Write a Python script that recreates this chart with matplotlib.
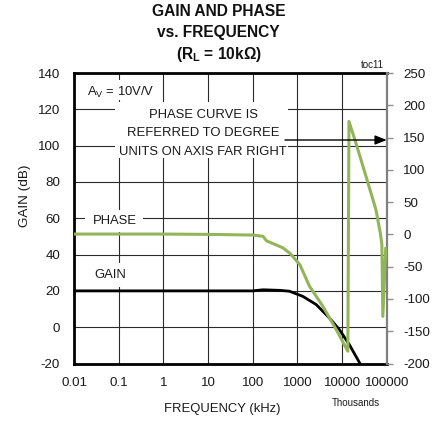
import matplotlib
matplotlib.use('Agg')
import matplotlib.pyplot as plt
from matplotlib.patches import Rectangle
from matplotlib.ticker import NullLocator, FixedLocator, FixedFormatter

# ---------------- data ----------------
gain_freq_khz = [0.01, 0.1, 1, 10, 100, 170, 400, 667, 1320, 2630, 5210, 8710, 14560, 26600]
gain_db = [20, 20, 20, 20, 20, 20.6, 20.3, 19.8, 17, 12.5, 5.1, -1.3, -9.6, -21]

phase_freq_khz = [0.01, 0.1, 1, 10, 100, 170, 204, 480, 700, 1140, 1862, 3690, 7350,
                  13500, 14300, 20560, 34360, 57500, 72000, 78000, 82000, 95000]
phase_deg = [0.5, 0.5, 0.5, 0, -1, -3, -10, -21, -30, -47, -80, -111, -147,
             -181, 175, 141, 90, 38, 2, -16, -127, -22]

x_ticks = [0.01, 0.1, 1, 10, 100, 1000, 10000, 100000]
x_tick_labels = ['0.01', '0.1', '1', '10', '100', '1000', '10000', '100000']
gain_ticks = [-20, 0, 20, 40, 60, 80, 100, 120, 140]
phase_ticks = [-200, -150, -100, -50, 0, 50, 100, 150, 200, 250]

title_lines = ['GAIN AND PHASE', 'vs. FREQUENCY', r'(R$_\mathbf{L}$ = 10kΩ)']
note_lines = ['PHASE CURVE IS', 'REFERRED TO DEGREE', 'UNITS ON AXIS FAR RIGHT']

# ---------------- style ----------------
W, H, DPI = 437, 426, 100

plt.rcParams['font.family'] = ['Liberation Sans', 'DejaVu Sans']
plt.rcParams['mathtext.fontset'] = 'custom'
plt.rcParams['mathtext.rm'] = 'Liberation Sans'
plt.rcParams['mathtext.bf'] = 'Liberation Sans:bold'
plt.rcParams['axes.unicode_minus'] = False

GREEN = '#93B55A'
GRID = '#2a2a2a'

fig = plt.figure(figsize=(W / DPI, H / DPI), dpi=DPI)


def fx(x):
    return x / W


def fy(y):
    return 1 - y / H


L, R, T, B = 74, 386.7, 73, 363.5
ax = fig.add_axes([fx(L), fy(B), (R - L) / W, (B - T) / H])
ax.set_xscale('log')
ax.set_xlim(0.01, 100000)
ax.set_ylim(-20, 140)
ax.xaxis.set_major_locator(FixedLocator(x_ticks))
ax.xaxis.set_major_formatter(FixedFormatter(x_tick_labels))
ax.xaxis.set_minor_locator(NullLocator())
ax.set_yticks(gain_ticks)
ax.set_axisbelow(True)
ax.grid(True, color=GRID, lw=0.8)
ax.tick_params(axis='both', length=0, labelsize=9.6, colors='#1a1a1a')
ax.tick_params(axis='y', pad=10)
ax.tick_params(axis='x', pad=10)
for s in ['left', 'top', 'bottom']:
    ax.spines[s].set_linewidth(2.0)
    ax.spines[s].set_color('black')
ax.spines['right'].set_visible(False)

# white boxes that interrupt the grid behind labels
boxes = [(84, 80, 160, 100), (115, 102, 288, 158), (85, 210, 143, 232), (90, 263, 131, 287)]
for x0, y0, x1, y1 in boxes:
    ax.add_patch(Rectangle((fx(x0), fy(y1)), (x1 - x0) / W, (y1 - y0) / H,
                           transform=fig.transFigure, facecolor='white',
                           edgecolor='none', zorder=1))

ax.plot(gain_freq_khz, gain_db, color='black', lw=2.0, zorder=3, solid_capstyle='butt')

ax2 = ax.twinx()
ax2.set_ylim(-200, 250)
ax2.set_yticks(phase_ticks)
ax2.yaxis.set_minor_locator(NullLocator())
for s in ['left', 'top', 'bottom']:
    ax2.spines[s].set_visible(False)
ax2.spines['right'].set_color('#808080')
ax2.spines['right'].set_linewidth(1.6)
ax2.tick_params(axis='y', length=4, width=1, color='#909090', pad=8, labelsize=9.6,
                labelcolor='#1a1a1a', direction='out')
ax2.plot(phase_freq_khz, phase_deg, color=GREEN, lw=2.2, zorder=3)

# texts
for txt, yc in zip(title_lines, [12, 33, 54]):
    fig.text(fx(218.5), fy(yc), txt, ha='center', va='center', fontsize=11.2,
             fontweight='bold', color='#111111')

for txt, yc in zip(note_lines, [115, 133.5, 151.7]):
    fig.text(fx(203), fy(yc), txt, ha='center', va='center', fontsize=9.4, color='#1a1a1a')

fig.text(fx(87), fy(92), r'A$_\mathregular{V}$ = 10V/V', ha='left', va='center',
         fontsize=9.4, color='#1a1a1a')
fig.text(fx(115), fy(221), 'PHASE', ha='center', va='center', fontsize=9.4, color='#1a1a1a')
fig.text(fx(110.5), fy(275), 'GAIN', ha='center', va='center', fontsize=9.4, color='#1a1a1a')
fig.text(fx(372), fy(65), 'toc11', ha='center', va='center', fontsize=7, color='#1a1a1a')
fig.text(fx(356), fy(403), 'Thousands', ha='center', va='center', fontsize=7, color='#1a1a1a')
fig.text(fx(222.7), fy(409), 'FREQUENCY (kHz)', ha='center', va='center', fontsize=9.4,
         color='#1a1a1a')
fig.text(fx(25), fy(196), 'GAIN (dB)', ha='center', va='center', rotation=90,
         fontsize=9.7, color='#1a1a1a')

ax2.annotate('', xy=(R, H - 140), xytext=(285, H - 140), xycoords='figure pixels',
             textcoords='figure pixels',
             arrowprops=dict(arrowstyle='-|>,head_length=0.5,head_width=0.2',
                             color='black', lw=1.0, mutation_scale=14,
                             shrinkA=0, shrinkB=0))

fig.savefig('out.png', dpi=DPI)
